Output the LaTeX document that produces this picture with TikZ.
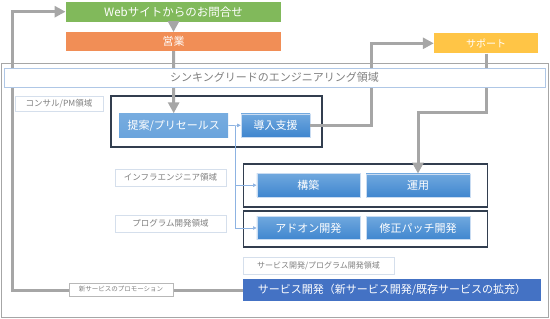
\documentclass[tikz,border=0pt]{standalone}
\usepackage{fontspec}
\setmainfont{Noto Sans CJK JP}
\usetikzlibrary{arrows.meta}
\definecolor{cgreen}{HTML}{81B95B}
\definecolor{corange}{HTML}{F18E56}
\definecolor{cyellow}{HTML}{FFC546}
\definecolor{cgray}{HTML}{A6A6A6}
\definecolor{ctext}{HTML}{7F7F7F}
\definecolor{clbl}{HTML}{D5DFEC}
\definecolor{ctitle}{HTML}{AFC7E6}
\definecolor{cframe}{HTML}{323E4F}
\definecolor{cthin}{HTML}{8DB3E2}
\definecolor{cservice}{HTML}{4472C4}
\definecolor{cbluetop}{HTML}{70A8DE}
\definecolor{cbluebot}{HTML}{3F86CF}
\definecolor{cblueedge}{HTML}{C9DCF2}
\begin{document}
\begin{tikzpicture}[x=1pt,y=-1pt,
  box/.style={rectangle,inner sep=0pt,text=white,font=\fontsize{11}{13}\selectfont},
  bluebox/.style={box,top color=cbluetop,bottom color=cbluebot,draw=cblueedge,line width=0.6pt,minimum width=103pt,minimum height=23.5pt},
  lbl/.style={rectangle,inner sep=0pt,draw=clbl,line width=0.8pt,fill=white,text=ctext,font=\fontsize{8.5}{10}\selectfont},
  frame/.style={rectangle,inner sep=0pt,draw=cframe,line width=1.6pt},
  garrow/.style={draw=cgray,line width=3pt,-{Triangle[length=11pt,width=11pt]}},
  tarrow/.style={draw=cthin,line width=0.7pt,-{Triangle[length=3.5pt,width=3.5pt]}},
]
\useasboundingbox (0,0) rectangle (550,319);

% outer area
\node[rectangle,inner sep=0pt,draw=cgray,line width=0.8pt,minimum width=547.5pt,minimum height=254.5pt] (outer) at (274.75,190.5) {};

% top boxes
\node[box,fill=cgreen,minimum width=215.5pt,minimum height=20pt,font=\fontsize{11.5}{13}\selectfont] (web) at (173.5,11.7) {Webサイトからのお問合せ};
\node[box,fill=corange,minimum width=215.5pt,minimum height=18.7pt] (eigyo) at (173.5,41.6) {営業};
\node[box,fill=cyellow,minimum width=104pt,minimum height=20pt,font=\fontsize{10}{12}\selectfont] (support) at (486,43.3) {サポート};

% consult area
\node[lbl,minimum width=88pt,minimum height=15pt] (consultlbl) at (59,104) {コンサル/PM領域};
\node[frame,minimum width=211pt,minimum height=51pt] (consult) at (216.2,121.4) {};
\node[box,top color=cbluetop!95!white,bottom color=cbluetop!88!cbluebot,minimum width=109pt,minimum height=24pt] (teian) at (173.7,125.5) {提案/プリセールス};
\node[bluebox,minimum width=69pt,minimum height=23pt] (dounyu) at (275.5,125.3) {導入支援};

% infra area
\node[lbl,minimum width=111pt,minimum height=17pt] (infralbl) at (170.5,177.5) {インフラエンジニア領域};
\node[frame,minimum width=244pt,minimum height=43pt] (infra) at (365.5,185.3) {};
\node[bluebox] (kouchiku) at (308.3,185.2) {構築};
\node[bluebox,minimum width=104pt] (unyo) at (418,185.6) {運用};

% program area
\node[lbl,minimum width=111pt,minimum height=17pt] (proglbl) at (170.5,223.5) {プログラム開発領域};
\node[frame,minimum width=244pt,minimum height=36pt] (prog) at (365.5,229.2) {};
\node[bluebox] (addon) at (308.3,228) {アドオン開発};
\node[bluebox,minimum width=104pt] (patch) at (418,228) {修正パッチ開発};

% service
\node[lbl,minimum width=151pt,minimum height=17pt,font=\fontsize{8}{10}\selectfont] (servlbl) at (318.5,265.5) {サービス開発/プログラム開発領域};
\node[box,fill=cservice,minimum width=298pt,minimum height=22pt] (service) at (392,290) {サービス開発（新サービス開発/既存サービスの拡充）};

% thin blue connectors
\coordinate (split) at (235,125.5);
\coordinate (splitA) at (235,185.2);
\coordinate (splitB) at (235,228);
\draw[tarrow] (teian.east) -- (dounyu.west);
\draw[draw=cthin,line width=0.7pt] (split) -- (splitB);
\draw[tarrow] (splitA) -- (kouchiku.west);
\draw[tarrow] (splitB) -- (addon.west);

% gray connectors
\draw[garrow] (web.south) -- (eigyo.north);
\draw[garrow] (eigyo.south) -- (teian.north);
\coordinate (sup1) at (371.7,125.3);
\draw[garrow] (dounyu.east) -- (sup1) |- (support.west);
\coordinate (sup2) at (486,112.5);
\draw[garrow] (support.south) -- (sup2) -| (unyo.north);
\coordinate (lc) at (12.5,290);
\draw[garrow] (service.west) -- (lc) |- (web.west);
\node[rectangle,inner sep=0pt,draw=cgray!80,line width=0.8pt,fill=white,text=ctext,minimum width=104pt,minimum height=13pt,font=\fontsize{6.5}{8}\selectfont] (promo) at (121,289.5) {新サービスのプロモーション};

% title band (drawn over the connectors)
\node[rectangle,inner sep=0pt,draw=ctitle,line width=0.8pt,fill=white,text=ctext,minimum width=541pt,minimum height=19pt,font=\fontsize{11}{12}\selectfont] (title) at (274.5,77.8) {シンキングリードのエンジニアリング領域};
\end{tikzpicture}
\end{document}
